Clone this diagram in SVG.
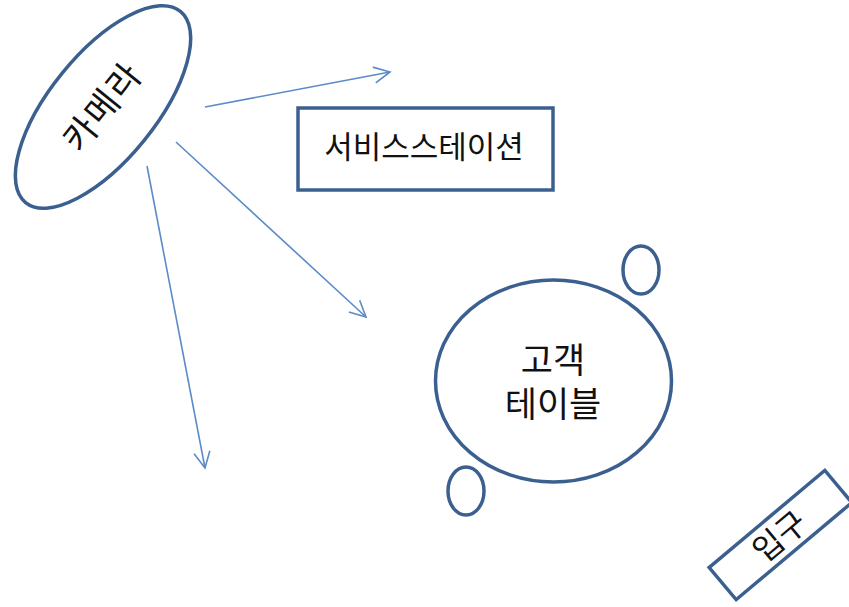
<svg xmlns="http://www.w3.org/2000/svg" width="849" height="607" viewBox="0 0 849 607">
<defs>
<style>
.shape{fill:#fff;stroke:#3B6090;stroke-width:3.5}
.conn{fill:none;stroke:#5B8BC9;stroke-width:1.6}
.t{font-family:"Noto Sans CJK KR","Noto Sans",sans-serif;fill:#111;text-anchor:middle}
</style>
<marker id="ah" viewBox="0 0 20 20" refX="18" refY="10" markerWidth="20" markerHeight="20" markerUnits="userSpaceOnUse" orient="auto">
<path d="M2,2 L18,10 L2,18" fill="none" stroke="#5B8BC9" stroke-width="1.6"/>
</marker>
</defs>
<rect width="849" height="607" fill="#fff"/>
<g id="connectors">
<line class="conn" x1="205" y1="107" x2="390" y2="72" marker-end="url(#ah)"/>
<line class="conn" x1="176" y1="142" x2="366" y2="317" marker-end="url(#ah)"/>
<line class="conn" x1="147" y1="166" x2="205" y2="468" marker-end="url(#ah)"/>
</g>
<g id="camera">
<ellipse class="shape" cx="103" cy="107" rx="123" ry="53" transform="rotate(-51 103 107)"/>
<text class="t" x="103" y="119" font-size="35" letter-spacing="2" transform="rotate(-51 103 107)">카메라</text>
</g>
<g id="service-station">
<rect class="shape" x="298" y="108" width="255" height="82"/>
<text class="t" x="424" y="158" font-size="31">서비스스테이션</text>
</g>
<g id="customer-table">
<ellipse class="shape" cx="553.5" cy="381" rx="118" ry="101"/>
<text class="t" font-size="35"><tspan x="553" y="373">고객</tspan><tspan x="553" y="417">테이블</tspan></text>
</g>
<g id="chair-1">
<ellipse class="shape" cx="641" cy="270" rx="18" ry="24"/>
</g>
<g id="chair-2">
<ellipse class="shape" cx="466" cy="491" rx="18" ry="24"/>
</g>
<g id="entrance">
<rect class="shape" x="705" y="514" width="151" height="42" transform="rotate(-40 780.5 535)"/>
<text class="t" x="779" y="547" font-size="32" transform="rotate(-40 780.5 535)">입구</text>
</g>
</svg>
